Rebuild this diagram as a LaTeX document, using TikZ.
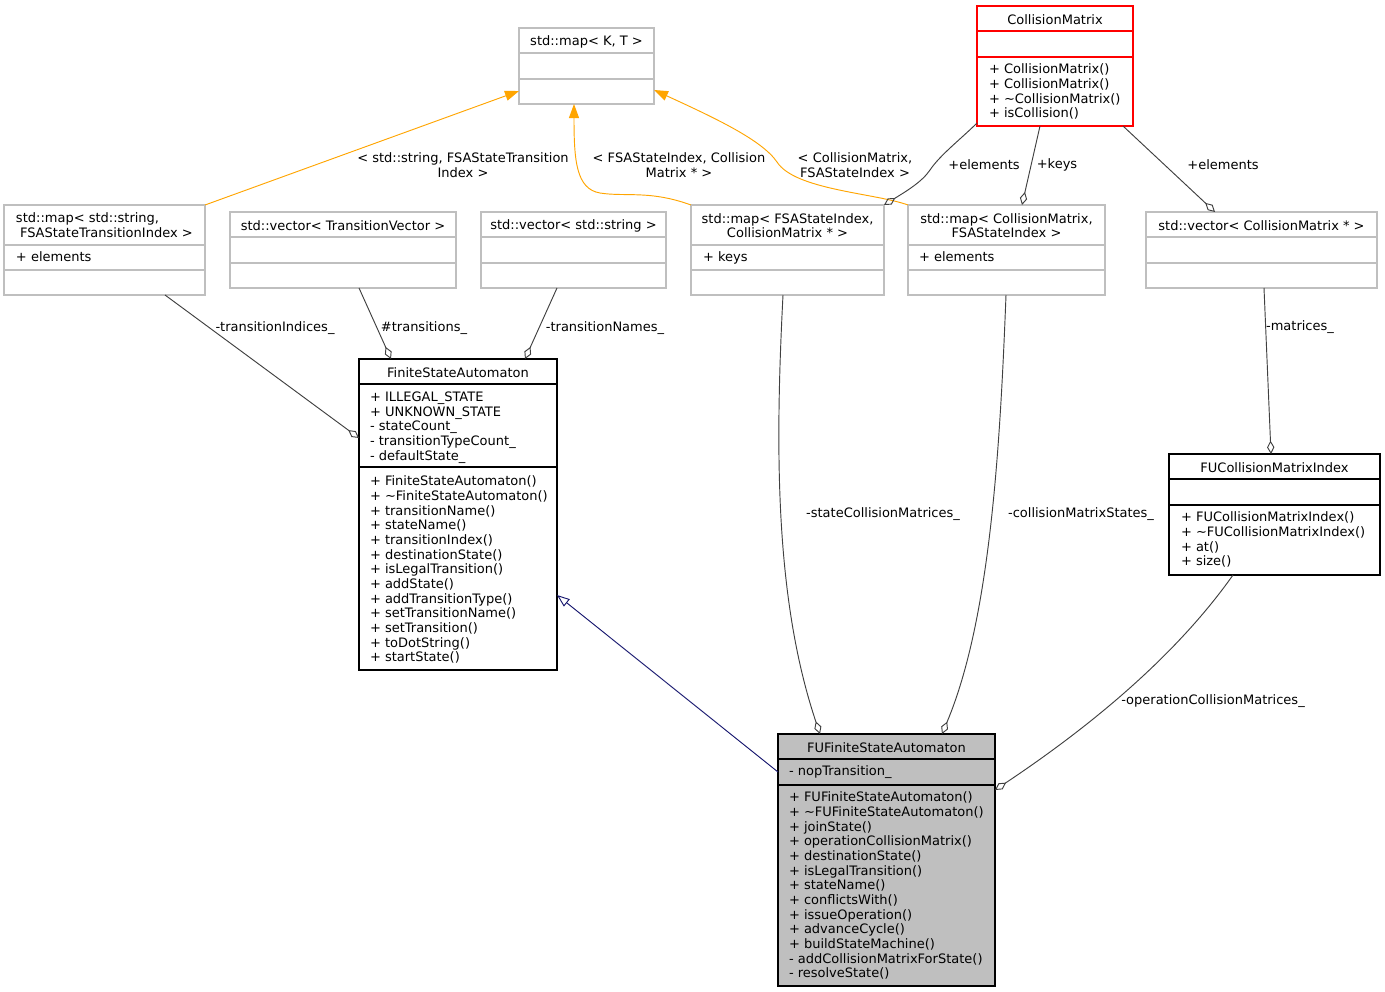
\documentclass[tikz,border=0pt]{standalone}
\usepackage{fontspec}
\setmainfont{DejaVu Sans}
\usetikzlibrary{arrows.meta,fit,calc}
\definecolor{boxgray}{RGB}{191,191,191}
\definecolor{fillgray}{RGB}{191,191,191}
\definecolor{edgegray}{RGB}{64,64,64}
\definecolor{navyblue}{RGB}{25,25,112}
\definecolor{orng}{RGB}{255,165,0}
\begin{document}
\begin{tikzpicture}[x=0.75pt,y=-0.75pt,
  every node/.style={font=\fontsize{9.75}{11}\selectfont, inner sep=0pt, outer sep=0pt},
  gbox/.style={draw=boxgray, line width=0.8pt},
  bbox/.style={draw=black, line width=0.8pt},
  rbox/.style={draw=red, line width=0.8pt},
  gsep/.style={draw=boxgray, line width=0.8pt},
  bsep/.style={draw=black, line width=0.8pt},
  rsep/.style={draw=red, line width=0.8pt},
  members/.style={anchor=north west, align=left},
  elabel/.style={align=center},
  agg/.style={draw=edgegray, line width=0.7pt, -{Diamond[open,length=10pt,width=5.5pt]}},
  inh/.style={draw=navyblue, line width=0.7pt, -{Triangle[open,length=9.5pt,width=7pt]}},
  tmpl/.style={draw=orng, line width=0.7pt, -{Triangle[length=10.5pt,width=7.5pt]}}
]
\useasboundingbox (0,0) rectangle (1385,992);
\fill[white] (0,0) rectangle (1385,992);

% ---------- boxes ----------
\node[gbox, fit={(519,28) (654,104)}] (mapkt) {};
\draw[gsep] (519,53) -- (654,53);
\draw[gsep] (519,79) -- (654,79);
\node (tmapkt) at (586.5,41.5) {std::map< K, T >};

\node[rbox, fit={(977,6) (1133,126)}] (cm) {};
\draw[rsep] (977,31) -- (1133,31);
\draw[rsep] (977,57) -- (1133,57);
\node (tcm) at (1055,19.5) {CollisionMatrix};
\node[members] (mcm) at (989,64) {+ CollisionMatrix()\\+ CollisionMatrix()\\+ \textasciitilde CollisionMatrix()\\+ isCollision()};

\node[gbox, fit={(4,205) (205,295)}] (mapstr) {};
\draw[gsep] (4,245) -- (205,245);
\draw[gsep] (4,270) -- (205,270);
\node[members] (tmapstr) at (16,213) {std::map< std::string,\\\hspace*{3pt}FSAStateTransitionIndex >};
\node[members] (amapstr) at (16,252) {+ elements};

\node[gbox, fit={(230,212) (456,288)}] (vt) {};
\draw[gsep] (230,237) -- (456,237);
\draw[gsep] (230,263) -- (456,263);
\node (tvt) at (343,225.5) {std::vector< TransitionVector >};

\node[gbox, fit={(481,212) (666,288)}] (vs) {};
\draw[gsep] (481,237) -- (666,237);
\draw[gsep] (481,263) -- (666,263);
\node (tvs) at (573.5,225.5) {std::vector< std::string >};

\node[gbox, fit={(691,205) (884,295)}] (mapfi) {};
\draw[gsep] (691,245) -- (884,245);
\draw[gsep] (691,270) -- (884,270);
\node[align=center] (tmapfi) at (787.5,225.5) {std::map< FSAStateIndex,\\CollisionMatrix * >};
\node[members] (amapfi) at (703,252) {+ keys};

\node[gbox, fit={(908,205) (1105,295)}] (mapcm) {};
\draw[gsep] (908,245) -- (1105,245);
\draw[gsep] (908,270) -- (1105,270);
\node[align=center] (tmapcm) at (1006.5,225.5) {std::map< CollisionMatrix,\\FSAStateIndex >};
\node[members] (amapcm) at (919,252) {+ elements};

\node[gbox, fit={(1146,212) (1377,288)}] (vcm) {};
\draw[gsep] (1146,237) -- (1377,237);
\draw[gsep] (1146,263) -- (1377,263);
\node (tvcm) at (1261.5,225.5) {std::vector< CollisionMatrix * >};

\node[bbox, fit={(359,359) (557,670)}] (fsa) {};
\draw[bsep] (359,384) -- (557,384);
\draw[bsep] (359,467) -- (557,467);
\node (tfsa) at (458,372.5) {FiniteStateAutomaton};
\node[members] (afsa) at (370,392) {+ ILLEGAL\_STATE\\+ UNKNOWN\_STATE\\- stateCount\_\\- transitionTypeCount\_\\- defaultState\_};
\node[members] (mfsa) at (370,476) {+ FiniteStateAutomaton()\\+ \textasciitilde FiniteStateAutomaton()\\+ transitionName()\\+ stateName()\\+ transitionIndex()\\+ destinationState()\\+ isLegalTransition()\\+ addState()\\+ addTransitionType()\\+ setTransitionName()\\+ setTransition()\\+ toDotString()\\+ startState()};

\node[bbox, fit={(1169,454) (1380,575)}] (fucmi) {};
\draw[bsep] (1169,479) -- (1380,479);
\draw[bsep] (1169,505) -- (1380,505);
\node (tfucmi) at (1274.5,467.5) {FUCollisionMatrixIndex};
\node[members] (mfucmi) at (1181,512) {+ FUCollisionMatrixIndex()\\+ \textasciitilde FUCollisionMatrixIndex()\\+ at()\\+ size()};

\node[bbox, fill=fillgray, fit={(778,734) (995,986)}] (fufsa) {};
\draw[bsep] (778,759) -- (995,759);
\draw[bsep] (778,785) -- (995,785);
\node (tfufsa) at (886.5,747.5) {FUFiniteStateAutomaton};
\node[members] (afufsa) at (789,766) {- nopTransition\_};
\node[members] (mfufsa) at (789,792) {+ FUFiniteStateAutomaton()\\+ \textasciitilde FUFiniteStateAutomaton()\\+ joinState()\\+ operationCollisionMatrix()\\+ destinationState()\\+ isLegalTransition()\\+ stateName()\\+ conflictsWith()\\+ issueOperation()\\+ advanceCycle()\\+ buildStateMachine()\\- addCollisionMatrixForState()\\- resolveState()};

% ---------- connectors ----------
\draw[tmpl] (mapstr.north east) -- ($(mapkt.south west)+(0,-13)$);
\draw[tmpl] (mapfi.north west) .. controls (650,190) and (625,197) .. (600,193) .. controls (576,189) and (574,160) .. ($(mapkt.south)+(-12.5,0)$);
\draw[tmpl] (mapcm.north west) .. controls (875,193) and (795,190) .. (777,162) .. controls (762,140) and (715,118) .. ($(mapkt.east)+(0,24)$);

\draw[agg] ($(cm.south west)+(0,-3)$) .. controls (962,138) and (940,155) .. (930,170) .. controls (922,182) and (905,192) .. (mapfi.north east);
\draw[agg] ($(cm.south)+(-15,0)$) -- ($(mapcm.north)+(15.5,0)$);
\draw[agg] ($(cm.south east)+(-10,0)$) -- ($(vcm.north)+(-46.5,0)$);
\draw[agg] ($(mapstr.south west)+(161,0)$) -- ($(fsa.north west)+(0,79)$);
\draw[agg] ($(vt.south)+(16,0)$) -- ($(fsa.north)+(-67,0)$);
\draw[agg] ($(vs.south)+(-16.5,0)$) -- ($(fsa.north)+(67,0)$);
\draw[agg] ($(mapfi.south)+(-4.5,0)$) .. controls (775,450) and (775,600) .. ($(fufsa.north west)+(42,0)$);
\draw[agg] ($(mapcm.south)+(-0.5,0)$) .. controls (1000,450) and (990,620) .. ($(fufsa.north)+(55.5,0)$);
\draw[agg] ($(vcm.south)+(2.5,0)$) -- ($(fucmi.north)+(-3.5,0)$);
\draw[agg] ($(fucmi.south)+(-41.5,0)$) .. controls (1180,650) and (1100,720) .. ($(fufsa.north east)+(0,56)$);
\draw[inh] ($(fufsa.north west)+(0,38)$) -- ($(fsa.south east)+(0,-75)$);

% ---------- labels ----------
\node[elabel] (l1) at (463,165) {< std::string, FSAStateTransition\\Index >};
\node[elabel] (l2) at (679,165) {< FSAStateIndex, Collision\\Matrix * >};
\node[elabel] (l3) at (855,165) {< CollisionMatrix,\\FSAStateIndex >};
\node (l4) at (984,165) {+elements};
\node (l5) at (1057,165) {+keys};
\node (l6) at (1223,165) {+elements};
\node (l7) at (275,328) {-transitionIndices\_};
\node (l8) at (424,328) {\#transitions\_};
\node (l9) at (605,328) {-transitionNames\_};
\node (l10) at (883,514) {-stateCollisionMatrices\_};
\node (l11) at (1081,514) {-collisionMatrixStates\_};
\node (l12) at (1300,327) {-matrices\_};
\node (l13) at (1213,701) {-operationCollisionMatrices\_};
\end{tikzpicture}
\end{document}
